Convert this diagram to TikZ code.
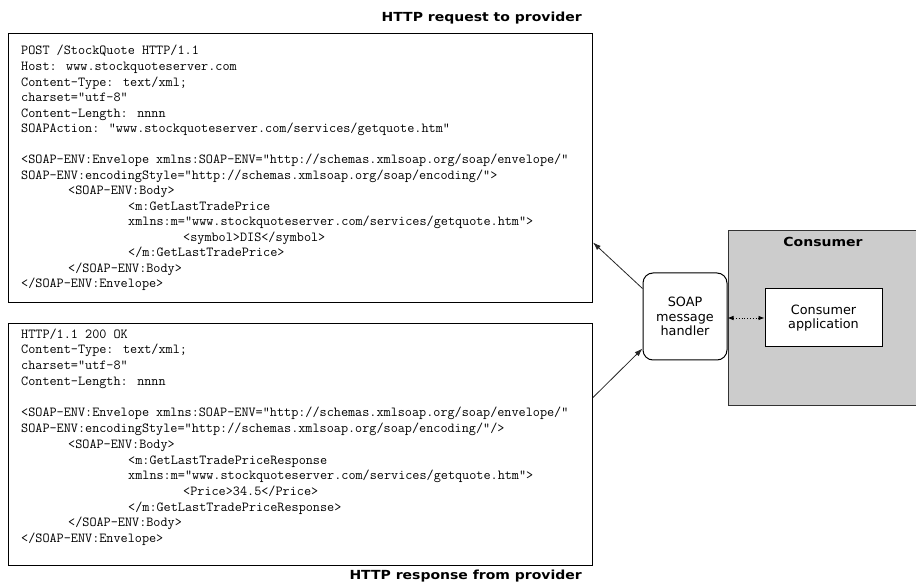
\documentclass[tikz,border=0pt]{standalone}
\usepackage{fontspec}
\newfontfamily\dejavu{DejaVu Sans}
\newfontfamily\dejavuwide[FakeStretch=1.12]{DejaVu Sans}
\usetikzlibrary{arrows.meta}
\tikzset{
  codebox/.style={draw=black, line width=1pt, fill=white, inner sep=0pt, anchor=north west},
  code/.style={anchor=base west, inner sep=0pt, font=\fontsize{13.8}{15}\selectfont\ttfamily},
  title/.style={anchor=base east, inner sep=0pt, font=\fontsize{12.5}{15}\selectfont\dejavuwide\bfseries},
  label/.style={align=center, inner sep=0pt, font=\fontsize{12.8}{14.5}\selectfont\dejavu},
  arr/.style={draw=black!85, line width=0.8pt, -{Latex[length=8pt,width=5.5pt]}},
  darr/.style={draw=black, line width=0.8pt, dotted, {Latex[length=6pt,width=4.5pt]}-{Latex[length=6pt,width=4.5pt]}}
}
\begin{document}
\begin{tikzpicture}[x=1pt,y=-1pt]
\useasboundingbox (0,0) rectangle (916,585);
% boxes
\node[codebox, minimum width=584pt, minimum height=269pt] (reqbox) at (8,33) {};
\node[codebox, minimum width=584pt, minimum height=242pt] (respbox) at (8,323) {};
% titles
\node[title] (reqtitle) at (582,21.7) {HTTP request to provider};
\node[title] (resptitle) at (582,579) {HTTP response from provider};
% request text
\node[code] (q1) at (21,55) {POST /StockQuote HTTP/1.1};
\node[code] (q2) at (21,70.5) {Host: www.stockquoteserver.com};
\node[code] (q3) at (21,86.1) {Content-Type: text/xml;};
\node[code] (q4) at (21,101.6) {charset="utf-8"};
\node[code] (q5) at (21,117.1) {Content-Length: nnnn};
\node[code] (q6) at (21,132.7) {SOAPAction: "www.stockquoteserver.com/services/getquote.htm"};
\node[code] (q7) at (21,163.7) {<SOAP-ENV:Envelope xmlns:SOAP-ENV="http://schemas.xmlsoap.org/soap/envelope/"};
\node[code] (q8) at (21,179.2) {SOAP-ENV:encodingStyle="http://schemas.xmlsoap.org/soap/encoding/">};
\node[code] (q9) at (68,194.8) {<SOAP-ENV:Body>};
\node[code] (q10) at (128,210.3) {<m:GetLastTradePrice};
\node[code] (q11) at (128,225.8) {xmlns:m="www.stockquoteserver.com/services/getquote.htm">};
\node[code] (q12) at (183,241.4) {<symbol>DIS</symbol>};
\node[code] (q13) at (128,256.9) {</m:GetLastTradePrice>};
\node[code] (q14) at (68,272.4) {</SOAP-ENV:Body>};
\node[code] (q15) at (21,288) {</SOAP-ENV:Envelope>};
% response text
\node[code] (r1) at (21,338.3) {HTTP/1.1 200 OK};
\node[code] (r2) at (21,354.0) {Content-Type: text/xml;};
\node[code] (r3) at (21,369.7) {charset="utf-8"};
\node[code] (r4) at (21,385.4) {Content-Length: nnnn};
\node[code] (r5) at (21,416.9) {<SOAP-ENV:Envelope xmlns:SOAP-ENV="http://schemas.xmlsoap.org/soap/envelope/"};
\node[code] (r6) at (21,432.6) {SOAP-ENV:encodingStyle="http://schemas.xmlsoap.org/soap/encoding/"/>};
\node[code] (r7) at (68,448.3) {<SOAP-ENV:Body>};
\node[code] (r8) at (128,464.0) {<m:GetLastTradePriceResponse};
\node[code] (r9) at (128,479.7) {xmlns:m="www.stockquoteserver.com/services/getquote.htm">};
\node[code] (r10) at (183,495.4) {<Price>34.5</Price>};
\node[code] (r11) at (128,511.1) {</m:GetLastTradePriceResponse>};
\node[code] (r12) at (68,526.8) {</SOAP-ENV:Body>};
\node[code] (r13) at (21,542.5) {</SOAP-ENV:Envelope>};
% consumer
\node[draw=black!80, line width=1pt, fill=gray!40, anchor=north west, minimum width=200pt, minimum height=175pt, inner sep=0pt] (consumer) at (728,230) {};
\node[anchor=base, inner sep=0pt, font=\fontsize{12.5}{15}\selectfont\dejavuwide\bfseries] (contitle) at (823,247) {Consumer};
\node[draw=black, line width=1pt, fill=white, minimum width=117pt, minimum height=58pt, inner sep=0pt, label] (app) at (823.5,318) {Consumer\\application};
\node[draw=black, line width=1pt, fill=white, rounded corners=10pt, minimum width=84pt, minimum height=87pt, inner sep=0pt, label] (hand) at (685,316.5) {SOAP\\message\\handler};
% connectors
\draw[arr] ([yshift=-16pt]hand.north west) -- ([yshift=-74.5pt]reqbox.east);
\draw[arr] ([yshift=47pt]respbox.east) -- ([yshift=12pt]hand.south west);
\draw[darr] (hand.east |- app.west) -- (app.west);
\end{tikzpicture}
\end{document}
